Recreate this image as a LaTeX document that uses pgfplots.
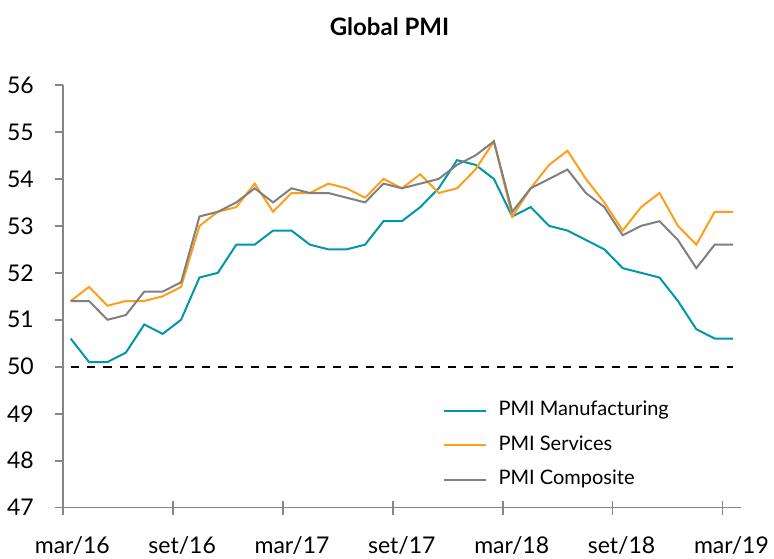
\documentclass[border=0pt]{standalone}
\usepackage{fontspec}
\setmainfont{Lato}
\usepackage{pgfplots}
\usepackage{pgfplotstable}
\pgfplotsset{compat=1.18}
\definecolor{pteal}{RGB}{0,151,169}
\definecolor{porange}{RGB}{255,158,27}
\definecolor{pgray}{RGB}{128,128,128}
\definecolor{paxis}{RGB}{134,134,134}

\pgfplotstableread{
i man ser com
0 50.6 51.4 51.4
1 50.1 51.7 51.4
2 50.1 51.3 51.0
3 50.3 51.4 51.1
4 50.9 51.4 51.6
5 50.7 51.5 51.6
6 51.0 51.7 51.8
7 51.9 53.0 53.2
8 52.0 53.3 53.3
9 52.6 53.4 53.5
10 52.6 53.9 53.8
11 52.9 53.3 53.5
12 52.9 53.7 53.8
13 52.6 53.7 53.7
14 52.5 53.9 53.7
15 52.5 53.8 53.6
16 52.6 53.6 53.5
17 53.1 54.0 53.9
18 53.1 53.8 53.8
19 53.4 54.1 53.9
20 53.8 53.7 54.0
21 54.4 53.8 54.3
22 54.3 54.2 54.5
23 54.0 54.8 54.8
24 53.2 53.2 53.3
25 53.4 53.8 53.8
26 53.0 54.3 54.0
27 52.9 54.6 54.2
28 52.7 54.0 53.7
29 52.5 53.5 53.4
30 52.1 52.9 52.8
31 52.0 53.4 53.0
32 51.9 53.7 53.1
33 51.4 53.0 52.7
34 50.8 52.6 52.1
35 50.6 53.3 52.6
36 50.6 53.3 52.6
}\pmidata

\begin{document}
\begin{tikzpicture}
\begin{axis}[
  name=ax,
  scale only axis,
  width=338.85pt, height=211.3pt,
  xmin=-0.40, xmax=36.43,
  ymin=47, ymax=56,
  axis x line*=bottom,
  axis y line*=left,
  axis line style={paxis, line width=0.85pt},
  tick align=center,
  major tick length=4.2pt,
  ytick={47,48,...,56},
  ytick style={paxis, line width=0.85pt, xshift=-2.1pt},
  yticklabel style={anchor=east, inner sep=0pt, xshift=-12.5pt, font=\fontsize{11.5}{13}\selectfont},
  /pgf/number format/assume math mode=true,
  xtick=\empty,
  extra x ticks={-0.40,5.57,11.54,17.51,23.48,29.45,35.42},
  extra x tick labels={mar/16,set/16,mar/17,set/17,mar/18,set/18,mar/19},
  extra x tick style={major tick length=7pt, tick align=center, tick style={paxis, line width=0.85pt},
    xticklabel style={anchor=base, xshift=4.5pt, yshift=-19.5pt, font=\fontsize{11.5}{13}\selectfont}},
  title={Global PMI},
  title style={at={(0.4813,1.109)}, anchor=center, font=\bfseries\fontsize{12}{14}\selectfont},
  legend cell align=left,
  legend style={draw=none, fill=none, at={(axis cs:20.2,48.33)}, anchor=west,
    inner sep=0pt, row sep=7.8pt, column sep=5.9pt,
    nodes={inner sep=0pt, text height=7.3pt, text depth=2.2pt},
    font=\fontsize{10}{12}\selectfont},
  legend image code/.code={\draw[#1] (0pt,0pt) -- (21pt,0pt);},
]
\addplot[black, line width=1.2pt, dash pattern=on 4.2pt off 4pt, forget plot] coordinates {(0,50) (36,50)};
\addplot[pteal, line width=1pt] table[x=i, y=man] {\pmidata};
\addlegendentry{PMI Manufacturing}
\addplot[porange, line width=1pt] table[x=i, y=ser] {\pmidata};
\addlegendentry{PMI Services}
\addplot[pgray, line width=1pt] table[x=i, y=com] {\pmidata};
\addlegendentry{PMI Composite}
\end{axis}
\pgfresetboundingbox
\path[use as bounding box] ([shift={(-31.65pt,-25.2pt)}]ax.south west) rectangle ++(387pt,279pt);
\end{tikzpicture}
\end{document}
